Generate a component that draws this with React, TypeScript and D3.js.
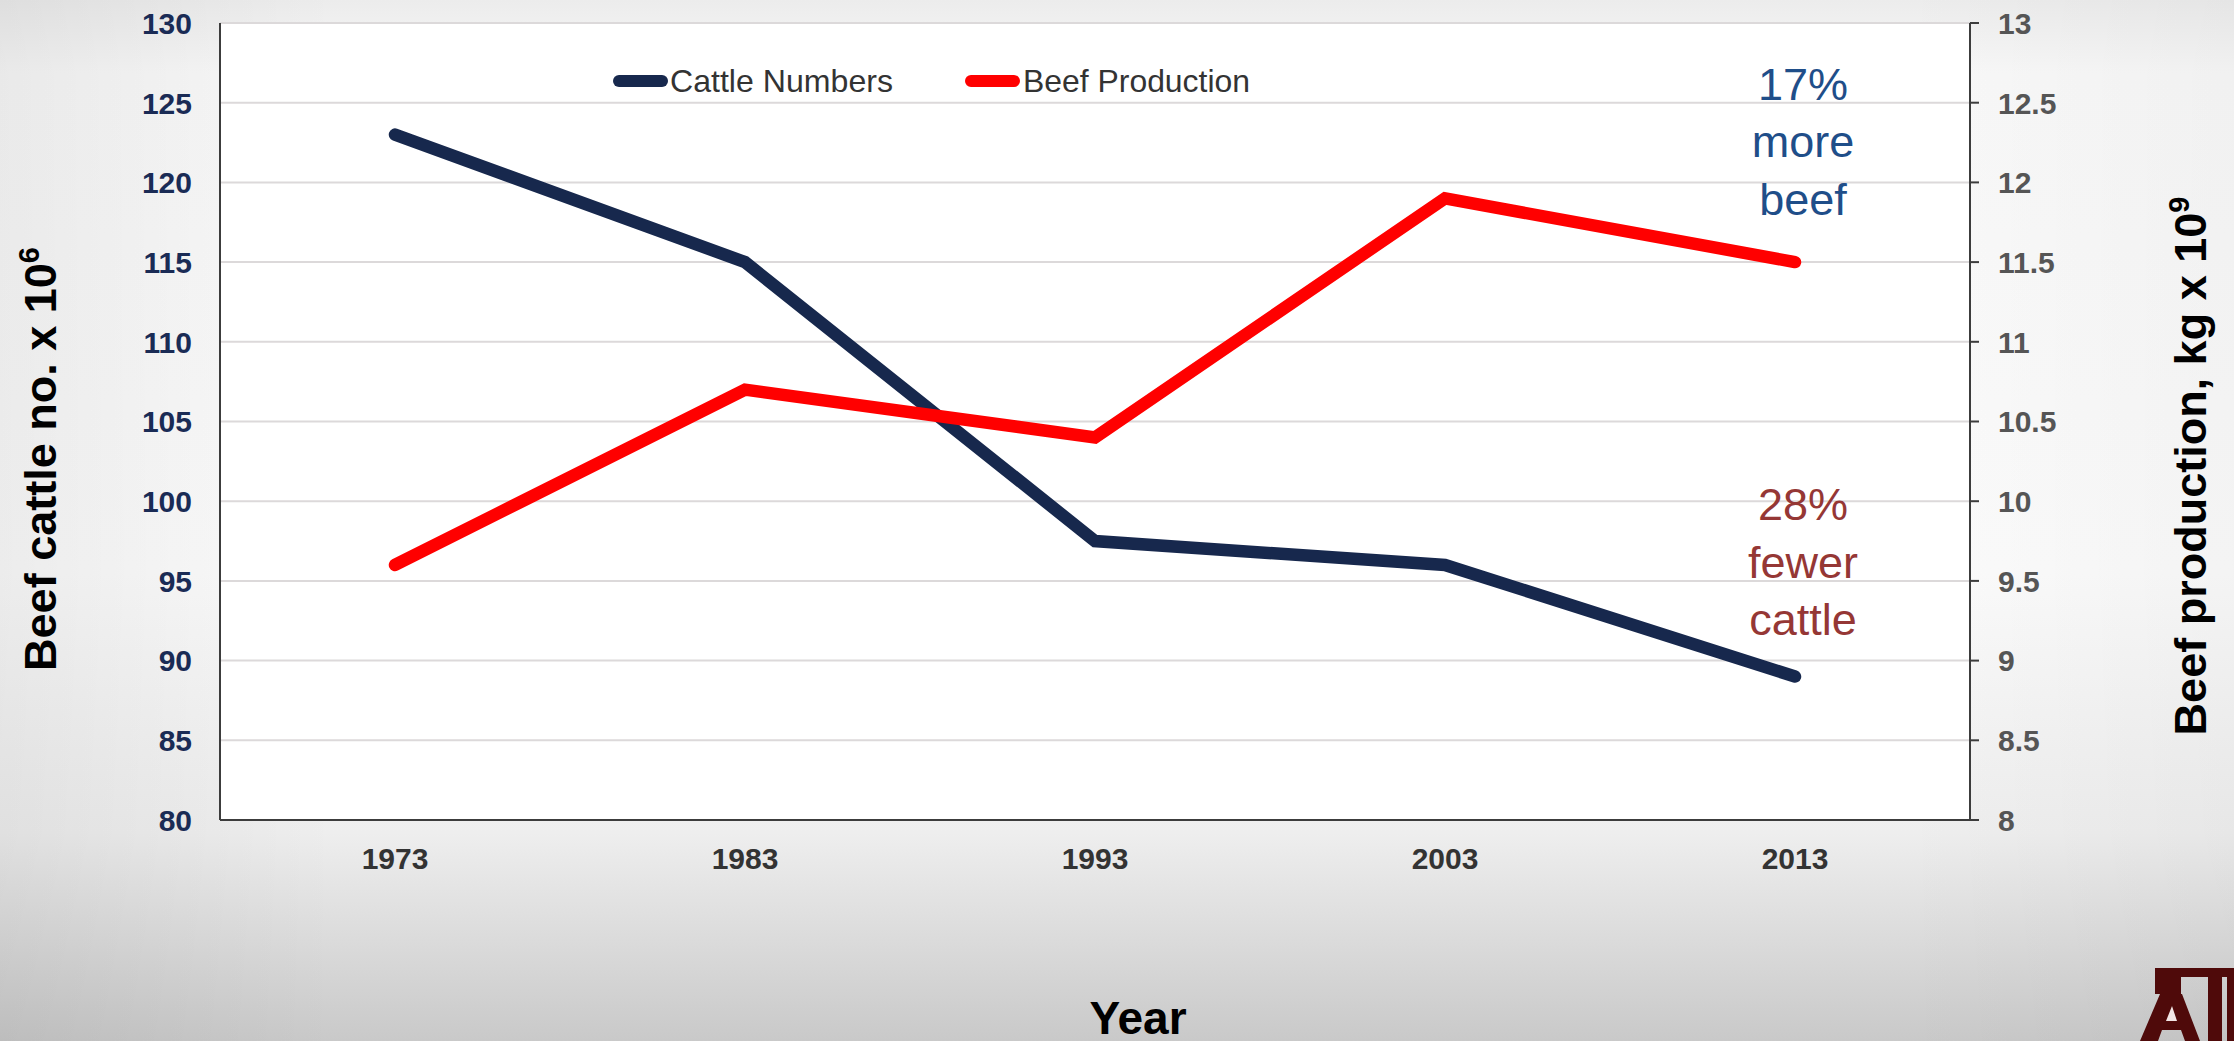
import React from "react";
import * as d3 from "d3";

const years = ["1973", "1983", "1993", "2003", "2013"];
const cattleNumbers = [123, 115, 97.5, 96, 89];
const beefProduction = [9.6, 10.7, 10.4, 11.9, 11.5];
const leftTicks = [80, 85, 90, 95, 100, 105, 110, 115, 120, 125, 130];
const rightTicks = [8, 8.5, 9, 9.5, 10, 10.5, 11, 11.5, 12, 12.5, 13];

const W = 2234;
const H = 1041;
const plot = { left: 220, right: 1970, top: 23, bottom: 820 };

const NAVY = "#17284d";
const RED = "#ff0000";
const FONT = "'Liberation Sans', Arial, sans-serif";

export default function App() {
  const x = d3.scalePoint<string>().domain(years).range([plot.left, plot.right]).padding(0.5);
  const yL = d3.scaleLinear().domain([80, 130]).range([plot.bottom, plot.top]);
  const yR = d3.scaleLinear().domain([8, 13]).range([plot.bottom, plot.top]);

  const cattleLine = d3
    .line<number>()
    .x((_, i) => x(years[i]) as number)
    .y((d) => yL(d))(cattleNumbers);
  const beefLine = d3
    .line<number>()
    .x((_, i) => x(years[i]) as number)
    .y((d) => yR(d))(beefProduction);

  return (
    <svg
      width={W}
      height={H}
      style={{ position: "absolute", left: 0, top: 0, display: "block" }}
      fontFamily={FONT}
    >
      <defs>
        <linearGradient id="bgV" x1="0" y1="0" x2="0" y2="1">
          <stop offset="0" stopColor="#ececec" />
          <stop offset="0.07" stopColor="#f8f8f8" />
          <stop offset="0.55" stopColor="#fbfbfb" />
          <stop offset="0.8" stopColor="#eeeeee" />
          <stop offset="1" stopColor="#c9c9c9" />
        </linearGradient>
        <linearGradient id="bgH" x1="0" y1="0" x2="1" y2="0">
          <stop offset="0" stopColor="#000" stopOpacity="0.06" />
          <stop offset="0.15" stopColor="#000" stopOpacity="0" />
          <stop offset="0.85" stopColor="#000" stopOpacity="0" />
          <stop offset="1" stopColor="#000" stopOpacity="0.03" />
        </linearGradient>
      </defs>
      <rect x={0} y={0} width={W} height={H} fill="url(#bgV)" />
      <rect x={0} y={0} width={W} height={H} fill="url(#bgH)" />

      {/* plot area */}
      <rect
        x={plot.left}
        y={plot.top}
        width={plot.right - plot.left}
        height={plot.bottom - plot.top}
        fill="#ffffff"
      />

      {/* gridlines */}
      {leftTicks.map((t) => (
        <line
          key={"g" + t}
          x1={plot.left}
          x2={plot.right}
          y1={yL(t)}
          y2={yL(t)}
          stroke="#dcd9da"
          strokeWidth={2}
        />
      ))}

      {/* axes */}
      <line x1={plot.left} x2={plot.left} y1={plot.top} y2={plot.bottom} stroke="#3c3c3c" strokeWidth={2} />
      <line x1={plot.left} x2={plot.right} y1={plot.bottom} y2={plot.bottom} stroke="#3c3c3c" strokeWidth={2} />
      <line x1={plot.right} x2={plot.right} y1={plot.top} y2={plot.bottom} stroke="#3c3c3c" strokeWidth={2} />
      {rightTicks.map((t) => (
        <line
          key={"rt" + t}
          x1={plot.right}
          x2={plot.right + 9}
          y1={yR(t)}
          y2={yR(t)}
          stroke="#3c3c3c"
          strokeWidth={2}
        />
      ))}

      {/* left tick labels */}
      {leftTicks.map((t) => (
        <text
          key={"lt" + t}
          x={192}
          y={yL(t)}
          dy="0.36em"
          textAnchor="end"
          fontSize={30}
          fontWeight="bold"
          fill="#1a2b55"
        >
          {t}
        </text>
      ))}

      {/* right tick labels */}
      {rightTicks.map((t) => (
        <text
          key={"rl" + t}
          x={1998}
          y={yR(t)}
          dy="0.36em"
          textAnchor="start"
          fontSize={30}
          fontWeight="bold"
          fill="#555555"
        >
          {t}
        </text>
      ))}

      {/* category labels */}
      {years.map((yr) => (
        <text
          key={"x" + yr}
          x={x(yr)}
          y={869}
          textAnchor="middle"
          fontSize={30}
          fontWeight="bold"
          fill="#333333"
        >
          {yr}
        </text>
      ))}

      {/* series */}
      <path d={cattleLine ?? ""} fill="none" stroke={NAVY} strokeWidth={12.5} strokeLinecap="round" strokeLinejoin="miter" />
      <path d={beefLine ?? ""} fill="none" stroke={RED} strokeWidth={12.5} strokeLinecap="round" strokeLinejoin="miter" />

      {/* legend */}
      <line x1={619} x2={662} y1={81} y2={81} stroke={NAVY} strokeWidth={12} strokeLinecap="round" />
      <text x={670} y={92} fontSize={32} fill="#333333" textLength={223} lengthAdjust="spacingAndGlyphs">
        Cattle Numbers
      </text>
      <line x1={971} x2={1014} y1={81} y2={81} stroke={RED} strokeWidth={12} strokeLinecap="round" />
      <text x={1023} y={92} fontSize={32} fill="#333333" textLength={227} lengthAdjust="spacingAndGlyphs">
        Beef Production
      </text>

      {/* annotations */}
      <g fontSize={45} fill="#1f4e89" textAnchor="middle">
        <text x={1803} y={100}>17%</text>
        <text x={1803} y={157}>more</text>
        <text x={1803} y={215}>beef</text>
      </g>
      <g fontSize={45} fill="#953735" textAnchor="middle">
        <text x={1803} y={520}>28%</text>
        <text x={1803} y={578}>fewer</text>
        <text x={1803} y={635}>cattle</text>
      </g>

      {/* axis titles */}
      <text
        transform="translate(56,459) rotate(-90)"
        textAnchor="middle"
        fontSize={45}
        fontWeight="bold"
        fill="#000"
      >
        Beef cattle no. x 10<tspan fontSize={29} dy={-17}>6</tspan>
      </text>
      <text
        transform="translate(2206,466) rotate(-90)"
        textAnchor="middle"
        fontSize={45}
        fontWeight="bold"
        fill="#000"
      >
        Beef production, kg x 10<tspan fontSize={29} dy={-17}>9</tspan>
      </text>
      <text x={1138} y={1034} textAnchor="middle" fontSize={46} fontWeight="bold" fill="#000">
        Year
      </text>

      {/* emblem in the corner */}
      <g fill="#4f0a0a">
        <rect x={2155} y={968} width={79} height={9} />
        <rect x={2155} y={968} width={26} height={26} />
        <rect x={2208} y={968} width={14} height={73} />
        <rect x={2227} y={968} width={7} height={73} />
        <path d="M2160,994 L2182,994 L2200,1041 L2185,1041 L2181,1030 L2162,1030 L2158,1041 L2140,1041 Z" />
      </g>
      <g fill="#f2e6e6">
        <path d="M2166,1021 L2177,1021 L2172,1006 Z" />
      </g>
    </svg>
  );
}
